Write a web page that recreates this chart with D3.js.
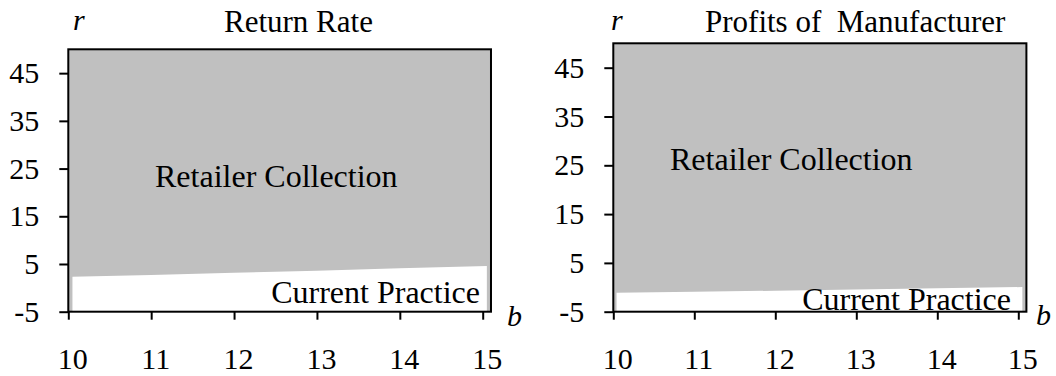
<!DOCTYPE html>
<meta charset="utf-8">
<style>
body { margin: 0; background: #fff; }
text { font-family: "Liberation Serif", "Times New Roman", serif; fill: #000; }
.axis path { display: none; }
.axis line { stroke: #000; stroke-width: 2px; }
.axis text { font-family: "Liberation Serif", "Times New Roman", serif; font-size: 30px; }
.title { font-size: 31px; }
.region { font-size: 32px; }
.var { font-size: 30px; font-style: italic; }
</style>
<div id="chart"></div>
<script src="https://d3js.org/d3.v7.min.js"></script>
<script>
// tick labels
var bTicks = [10, 11, 12, 13, 14, 15],
    rTicks = [-5, 5, 15, 25, 35, 45];

// boundary between current practice (below) and retailer collection (above)
var returnB = [10.05, 11, 12, 13, 14, 15.05],
    returnR = [2.3, 2.7, 3.15, 3.6, 4.1, 4.6];
var profitB = [10.04, 11, 12, 13, 14, 15.05],
    profitR = [-1.1, -0.9, -0.7, -0.45, -0.2, 0.05];

var titles = ["Return Rate", "Profits of\u00a0 Manufacturer"],
    regions = ["Retailer Collection", "Current Practice"];

var w = 1056, h = 376;

var svg = d3.select("#chart").append("svg")
  .attr("width", w)
  .attr("height", h);

// layout for each panel
var panels = [
  { b: returnB, r: returnR, title: titles[0],
    x0: 68.3, x1: 482.7, yb: 311.7, yt: 49.3,
    titleX: 224, rX: 73, bX: 507, bY: 326,
    rcX: 155, rcY: 186.7, cpX: 480, cpY: 303.3 },
  { b: profitB, r: profitR, title: titles[1],
    x0: 613.3, x1: 1018.3, yb: 311.7, yt: 43.3,
    titleX: 705, rX: 611, bX: 1036, bY: 325,
    rcX: 670, rcY: 170, cpX: 1011, cpY: 310 }
];

var fmt = function (d) { return String(d); };

panels.forEach(function (p) {
  var x = d3.scaleLinear().domain([10, 15]).range([p.x0, p.x1]),
      y = d3.scaleLinear().domain([-5, 50]).range([p.yb, p.yt]);

  var g = svg.append("g");

  // whole region grey
  g.append("rect")
    .attr("x", x(10))
    .attr("y", y(50))
    .attr("width", x(15.1) - x(10))
    .attr("height", y(-5) - y(50))
    .attr("fill", "#c0c0c0");

  // current practice region
  var pts = p.b.map(function (d, i) { return [d, p.r[i]]; });
  var area = d3.area()
    .x(function (d) { return x(d[0]); })
    .y0(y(-5))
    .y1(function (d) { return y(d[1]); });
  g.append("path")
    .datum(pts)
    .attr("d", area)
    .attr("fill", "#fff");

  // frame
  g.append("rect")
    .attr("x", x(10))
    .attr("y", y(50))
    .attr("width", x(15.1) - x(10))
    .attr("height", y(-5) - y(50))
    .attr("fill", "none")
    .attr("stroke", "#000")
    .attr("stroke-width", 2);

  g.append("g")
    .attr("class", "axis")
    .attr("transform", "translate(0," + y(-5) + ")")
    .call(d3.axisBottom(x).tickValues(bTicks).tickFormat(fmt)
      .tickSize(8).tickSizeOuter(0).tickPadding(28))
    .attr("font-family", null)
    .attr("font-size", null)
    .selectAll("text").attr("dx", 4);

  g.append("g")
    .attr("class", "axis")
    .attr("transform", "translate(" + x(10) + ",0)")
    .call(d3.axisLeft(y).tickValues(rTicks).tickFormat(fmt)
      .tickSize(9).tickSizeOuter(0).tickPadding(20))
    .attr("font-family", null)
    .attr("font-size", null);

  g.append("text")
    .attr("class", "title")
    .attr("x", p.titleX)
    .attr("y", 31.7)
    .text(p.title);

  g.append("text")
    .attr("class", "var")
    .attr("x", p.rX)
    .attr("y", 30)
    .text("r");

  g.append("text")
    .attr("class", "var")
    .attr("x", p.bX)
    .attr("y", p.bY)
    .text("b");

  g.append("text")
    .attr("class", "region")
    .attr("x", p.rcX)
    .attr("y", p.rcY)
    .text(regions[0]);

  g.append("text")
    .attr("class", "region")
    .attr("x", p.cpX)
    .attr("y", p.cpY)
    .attr("text-anchor", "end")
    .text(regions[1]);
});
</script>
